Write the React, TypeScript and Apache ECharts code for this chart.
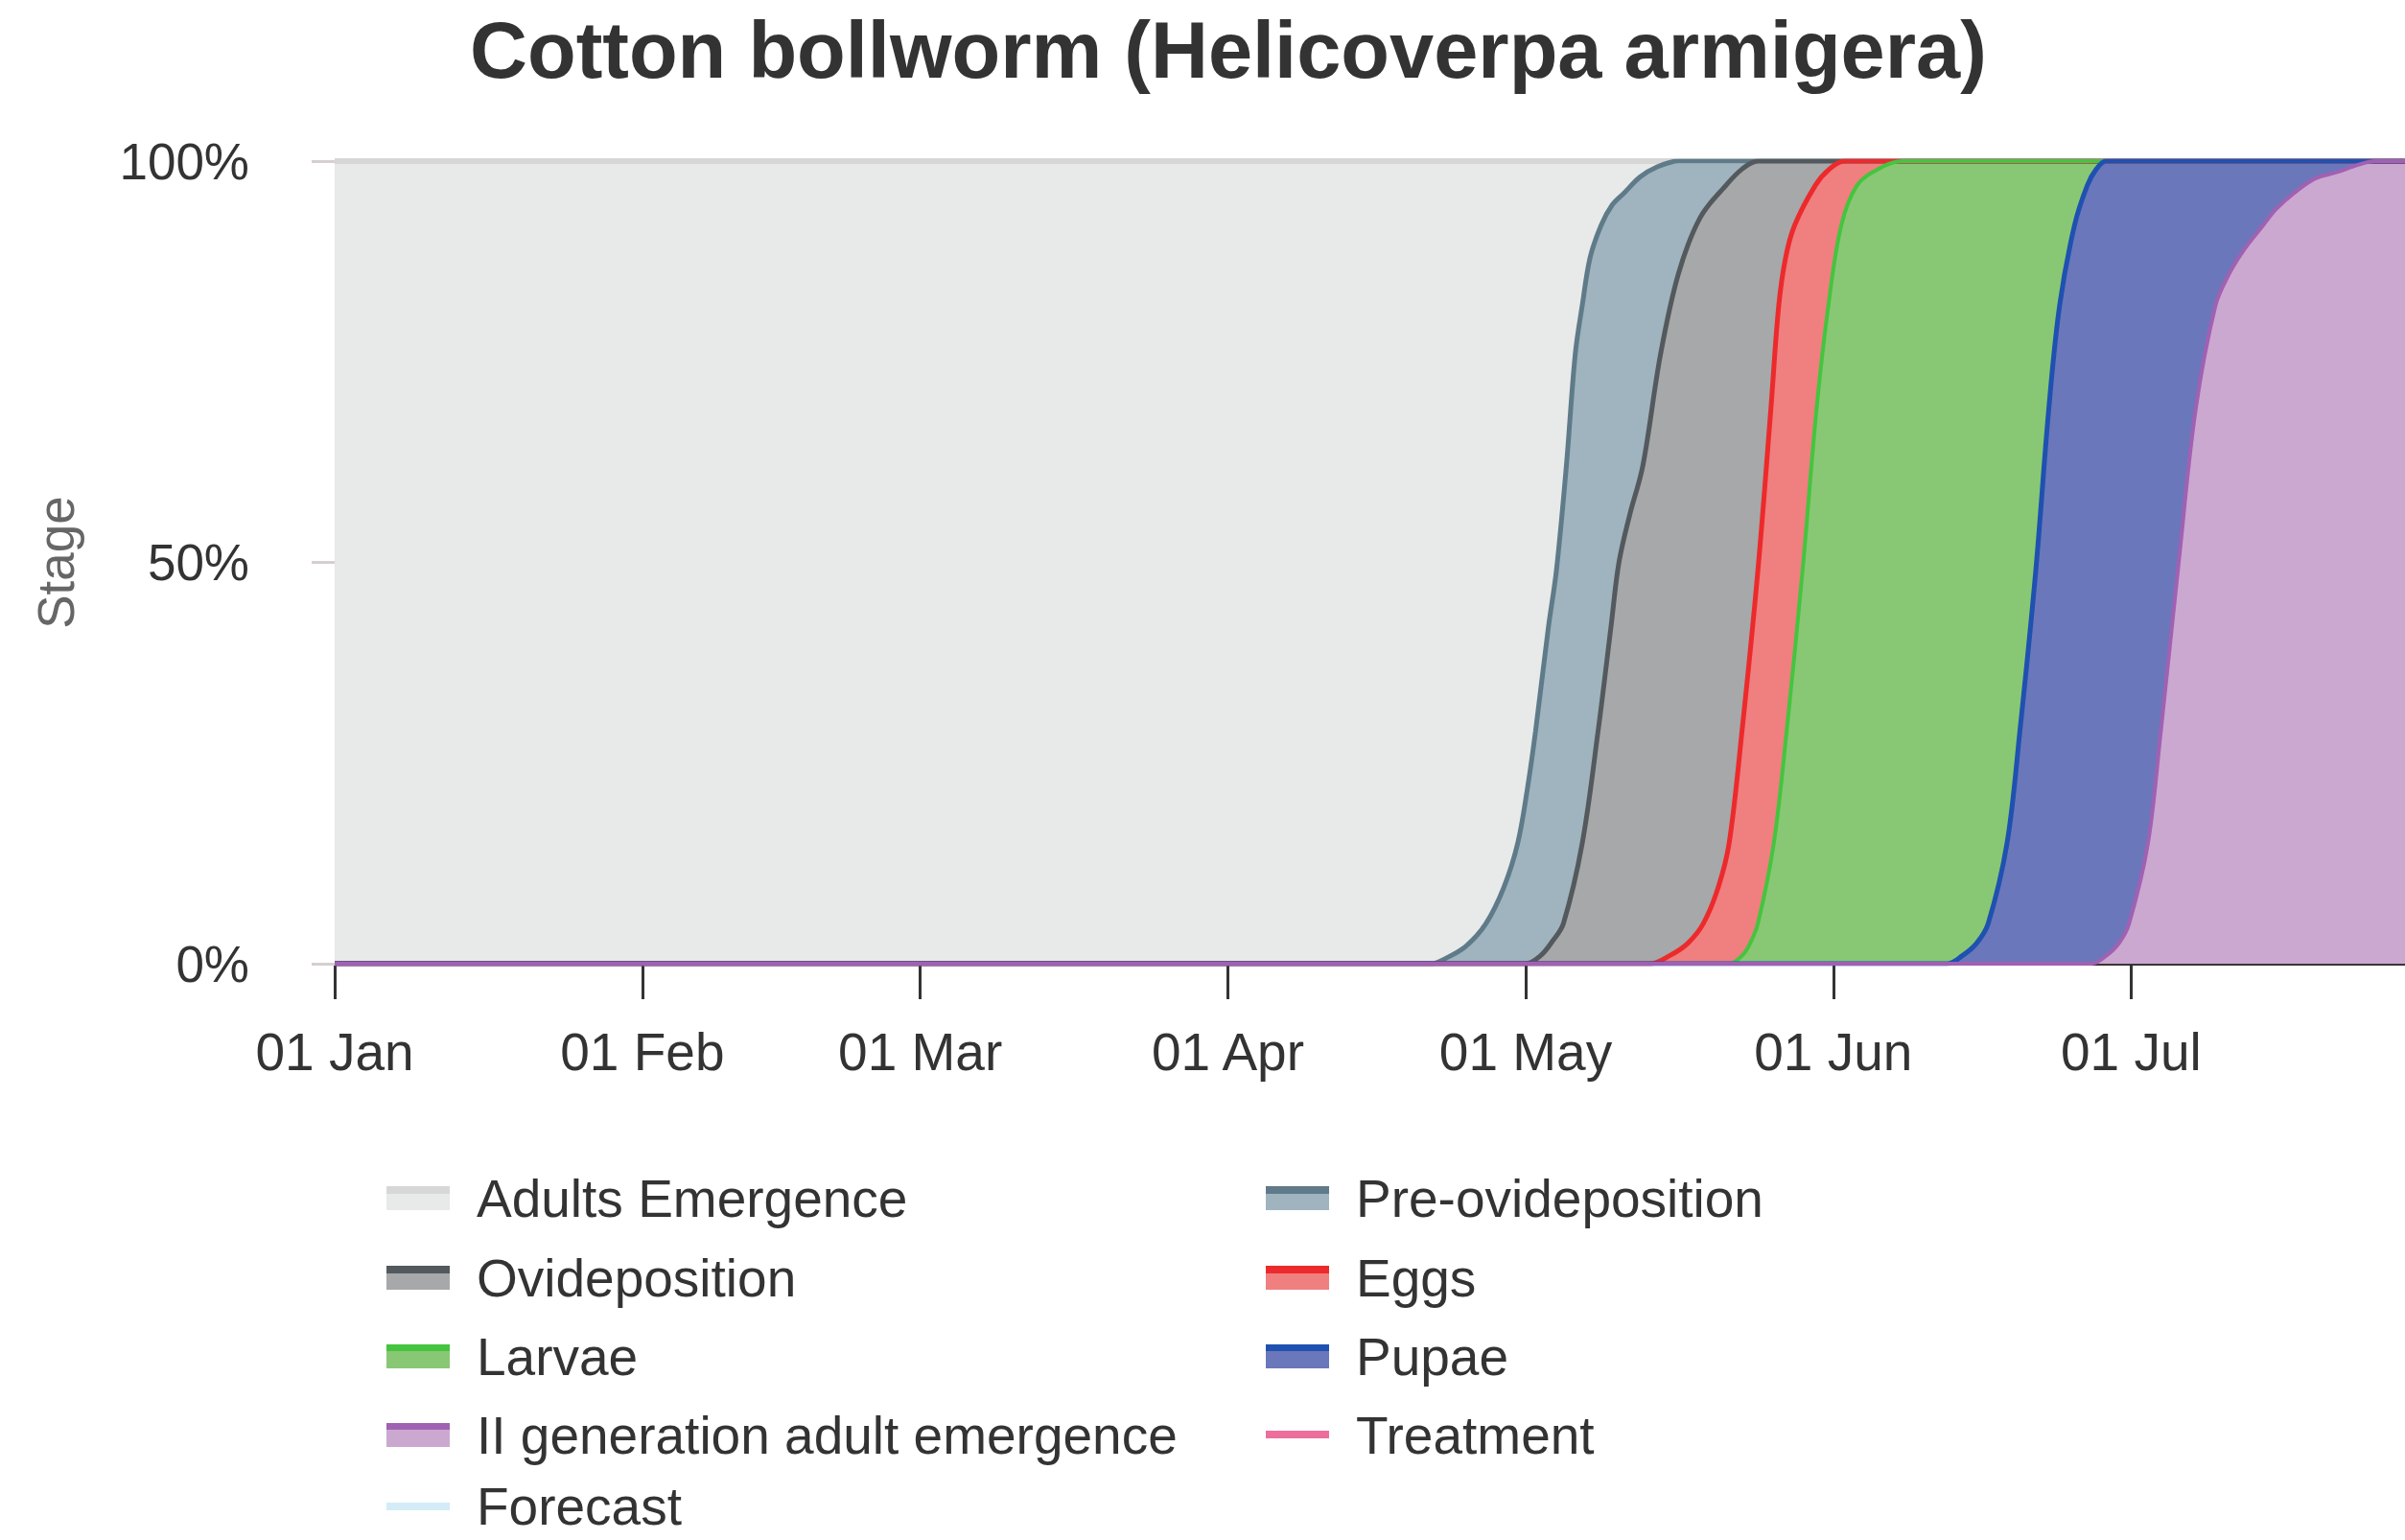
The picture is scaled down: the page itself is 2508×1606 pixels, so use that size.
import React, { useEffect, useRef } from "react";
import * as echarts from "echarts";

// ---- Data (x = days since 01 Jan, y = % of population reaching the stage) ----
const MONTH_START_DAYS = [0, 31, 59, 90, 120, 151, 181];
const TICK_LABELS = ["01 Jan", "01 Feb", "01 Mar", "01 Apr", "01 May", "01 Jun", "01 Jul"];
const X_MAX_DAY = 208.6;
const Y_TICKS = [0, 50, 100];

const ADULTS_EMERGENCE = [[0, 100], [212, 100]];
const PRE_OVIDEPOSITION = [
  [0, 0], [110.5, 0], [112, 0.7], [114, 2.2], [116, 5], [117.8, 9.5], [119.2, 15], [120.2, 22],
  [121, 29], [122.3, 42], [123.1, 49], [124.1, 62], [125, 76], [125.7, 82], [126.5, 88],
  [127.6, 92], [128.7, 94.5], [129.9, 96], [131.5, 98], [133.1, 99.2], [135.4, 100], [212, 100],
];
const OVIDEPOSITION = [
  [0, 0], [120, 0], [121.5, 1], [122.7, 2.8], [123.8, 5], [125.7, 15], [127.3, 29], [128.6, 42],
  [129.4, 50], [130.5, 56], [131.8, 62], [133.6, 76], [135.4, 86], [137.6, 93], [140.2, 97],
  [141.8, 99], [143.4, 100], [212, 100],
];
const EGGS = [
  [0, 0], [132.5, 0], [134.5, 1], [136.3, 2.5], [137.9, 5], [139.4, 9.5], [140.5, 15], [141.8, 29],
  [143.4, 49], [144.7, 69], [145.5, 82], [146.2, 88], [147.1, 92], [149.2, 97], [150.6, 99],
  [152.1, 100], [212, 100],
];
const LARVAE = [
  [0, 0], [140.5, 0], [141.8, 1], [142.6, 2.5], [143.4, 5], [145, 15], [146.3, 29], [147.9, 49],
  [149.3, 69], [150.5, 82], [151.8, 92], [153.4, 97], [155.5, 99], [157.9, 100], [212, 100],
];
const PUPAE = [
  [0, 0], [162.5, 0], [164, 1], [165.4, 2.5], [166.6, 5], [168.5, 15], [169.8, 29], [171.4, 49],
  [172.7, 69], [173.8, 82], [175.3, 92], [176.6, 97], [177.5, 99], [178.5, 100], [212, 100],
];
const II_GENERATION = [
  [0, 0], [177, 0], [178.5, 1], [179.8, 2.6], [180.8, 5], [182.7, 15], [184, 29], [185.8, 50],
  [187.5, 69], [189.5, 82], [190.9, 86], [192.4, 89], [194.3, 92], [195.6, 94], [197.4, 96],
  [199.5, 97.8], [201.7, 98.6], [203.8, 99.5], [205.6, 100], [212, 100],
];
const TREATMENT: number[][] = [];
const FORECAST: number[][] = [];

// legend layout: [name, column, row]
const LEGEND_ITEMS: [string, number, number][] = [
  ["Adults Emergence", 0, 0],
  ["Pre-ovideposition", 1, 0],
  ["Ovideposition", 0, 1],
  ["Eggs", 1, 1],
  ["Larvae", 0, 2],
  ["Pupae", 1, 2],
  ["II generation adult emergence", 0, 3],
  ["Treatment", 1, 3],
  ["Forecast", 0, 4],
];
const LEGEND_COL_LEFT = [403, 1320];
const LEGEND_ROW_CENTER = [1245, 1328, 1410, 1492, 1566];

const FONT = "'Liberation Sans', Arial, Helvetica, sans-serif";

type Stage = { name: string; data: number[][]; line: string; fill: string | null; width: number };
const STAGES: Stage[] = [
  { name: "Adults Emergence", data: ADULTS_EMERGENCE, line: "#d7d7d7", fill: "#e8e9e9", width: 6 },
  { name: "Pre-ovideposition", data: PRE_OVIDEPOSITION, line: "#5f7b89", fill: "#9fb4be", width: 5 },
  { name: "Ovideposition", data: OVIDEPOSITION, line: "#54595d", fill: "#a6a8a9", width: 5 },
  { name: "Eggs", data: EGGS, line: "#ec2a2c", fill: "#f07f7f", width: 5 },
  { name: "Larvae", data: LARVAE, line: "#45c43f", fill: "#88c874", width: 4 },
  { name: "Pupae", data: PUPAE, line: "#1f51b1", fill: "#6b77bb", width: 5 },
  { name: "II generation adult emergence", data: II_GENERATION, line: "#a061b3", fill: "#cba8d0", width: 4 },
  { name: "Treatment", data: TREATMENT, line: "#ec6f9b", fill: null, width: 4 },
  { name: "Forecast", data: FORECAST, line: "#d3ecf8", fill: null, width: 4 },
];

function legendIconColor(s: Stage) {
  if (s.fill) {
    return new echarts.graphic.LinearGradient(0, 0, 0, 1, [
      { offset: 0, color: s.line },
      { offset: 0.3, color: s.line },
      { offset: 0.3, color: s.fill },
      { offset: 1, color: s.fill },
    ]);
  }
  return new echarts.graphic.LinearGradient(0, 0, 0, 1, [
    { offset: 0, color: "rgba(255,255,255,0)" },
    { offset: 0.34, color: "rgba(255,255,255,0)" },
    { offset: 0.34, color: s.line },
    { offset: 0.66, color: s.line },
    { offset: 0.66, color: "rgba(255,255,255,0)" },
    { offset: 1, color: "rgba(255,255,255,0)" },
  ]);
}

const LEGEND_LINE_HEIGHT = 46;
const legends = LEGEND_ITEMS.map(([name, col, row]) => {
  const s = STAGES.find((x) => x.name === name)!;
  return {
    orient: "horizontal",
    left: LEGEND_COL_LEFT[col],
    top: LEGEND_ROW_CENTER[row] - LEGEND_LINE_HEIGHT / 2,
    itemWidth: 66,
    itemHeight: 25,
    selectedMode: false,
    padding: 0,
    textStyle: {
      fontSize: 55,
      lineHeight: LEGEND_LINE_HEIGHT,
      color: "#333333",
      fontFamily: FONT,
      padding: [0, 0, 0, 23],
    },
    data: [{ name, icon: "rect", itemStyle: { color: legendIconColor(s), borderWidth: 0 } }],
  };
});

export default function App() {
  const ref = useRef<HTMLDivElement>(null);
  useEffect(() => {
    if (!ref.current) return;
    const chart = echarts.init(ref.current, null, { renderer: "svg" });
    chart.setOption({
      animation: false,
      backgroundColor: "#ffffff",
      textStyle: { fontFamily: FONT },
      title: {
        text: "Cotton bollworm (Helicoverpa armigera)",
        left: 485,
        top: 5,
        textStyle: { fontSize: 83, fontWeight: "bold", color: "#333333", fontFamily: FONT, lineHeight: 84 },
      },
      grid: { left: 349, right: 0, top: 168, bottom: 601, containLabel: false },
      legend: legends,
      xAxis: {
        type: "value",
        min: 0,
        max: X_MAX_DAY,
        offset: 3,
        axisLine: { show: true, lineStyle: { color: "#333333", width: 3 } },
        axisTick: { show: true, length: 37, customValues: MONTH_START_DAYS, lineStyle: { color: "#333333", width: 3 } },
        axisLabel: {
          customValues: MONTH_START_DAYS,
          formatter: (v: number) => TICK_LABELS[MONTH_START_DAYS.indexOf(v)] ?? "",
          fontSize: 55,
          color: "#333333",
          margin: 61,
          fontFamily: FONT,
        },
        splitLine: { show: false },
      },
      yAxis: {
        type: "value",
        min: Y_TICKS[0],
        max: Y_TICKS[Y_TICKS.length - 1],
        interval: Y_TICKS[1] - Y_TICKS[0],
        z: 3,
        name: "Stage",
        nameLocation: "middle",
        nameGap: 264,
        nameRotate: 90,
        nameTextStyle: { fontSize: 53, color: "#666666", fontFamily: FONT },
        axisLine: { show: false },
        axisTick: { show: true, length: 24, lineStyle: { color: "#d6cfcf", width: 3 } },
        axisLabel: { formatter: "{value}%", fontSize: 53, color: "#333333", margin: 89, fontFamily: FONT },
        splitLine: { show: true, lineStyle: { color: "rgba(110,90,90,0.16)", width: 2 } },
      },
      series: STAGES.map((s) => ({
        name: s.name,
        type: "line",
        data: s.data,
        showSymbol: false,
        symbol: "none",
        smooth: 0.35,
        color: s.line,
        lineStyle: { color: s.line, width: s.width },
        itemStyle: { color: s.line },
        areaStyle: s.fill ? { color: s.fill, opacity: 1 } : undefined,
        emphasis: { disabled: true },
        silent: true,
      })),
    });
    return () => chart.dispose();
  }, []);
  return (
    <div
      ref={ref}
      style={{ position: "absolute", left: 0, top: 0, width: 2508, height: 1606, background: "#fff" }}
    />
  );
}
